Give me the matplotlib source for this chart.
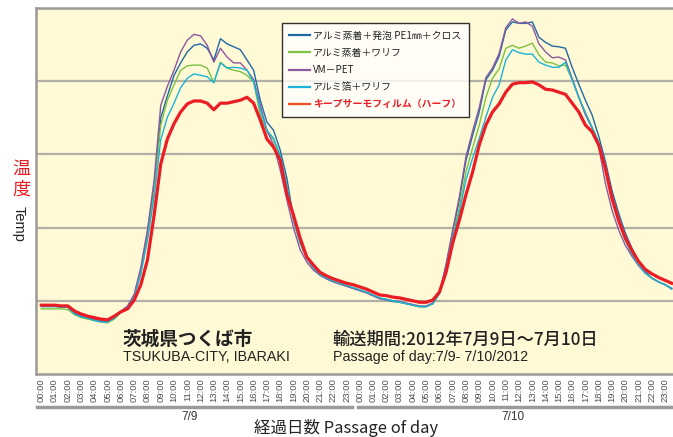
import numpy as np
import matplotlib
matplotlib.use("Agg")
import matplotlib.pyplot as plt
import matplotlib.transforms as mtransforms

plt.rcParams['font.family'] = ['Noto Sans CJK JP', 'DejaVu Sans']

# half-hourly readings, 7/9 00:00 .. 7/10 23:30
hours_labels = [f"{h % 24:02d}:00" for h in range(48)]
days = ["7/9", "7/10"]
series_names = ["アルミ蒸着＋発泡 PE1㎜＋クロス", "アルミ蒸着＋ワリフ", "VM－PET",
                "アルミ箔＋ワリフ", "キープサーモフィルム（ハーフ）"]

blue = [19.3,19.3,19.3,19.2,19.2,18.3,17.9,17.7,17.4,17.2,17.2,17.7,
        18.5,19.2,20.7,24.2,29.3,35.5,45.0,48.0,50.8,52.5,54.0,54.9,
        55.1,54.5,52.9,55.8,55.1,54.7,54.3,52.9,51.5,47.4,44.4,43.3,
        40.6,36.8,31.3,28.0,25.8,24.5,23.5,23.0,22.6,22.3,22.0,21.7,
        21.4,21.1,20.7,20.3,20.1,19.9,19.8,19.6,19.4,19.2,19.2,19.6,
        21.0,24.8,29.4,33.8,39.2,42.6,45.8,50.2,51.5,53.4,57.0,58.1,
        57.9,57.9,58.1,56.0,55.3,54.8,54.7,54.5,51.9,49.6,47.4,45.4,
        42.5,39.1,35.1,32.0,29.3,27.2,25.3,24.1,23.1,22.6,22.2,21.6]

green = [18.9,18.9,18.9,18.9,18.8,18.1,17.7,17.5,17.3,17.1,17.0,17.5,
         18.4,19.1,20.7,24.0,28.7,35.1,44.0,47.4,49.5,51.5,52.1,52.2,
         52.2,51.8,49.8,52.6,51.8,51.5,51.3,50.8,49.9,45.4,43.1,42.0,
         39.5,35.7,31.0,27.9,25.8,24.5,23.6,23.1,22.7,22.4,22.1,21.8,
         21.5,21.2,20.8,20.4,20.2,20.0,19.8,19.6,19.4,19.2,19.2,19.6,
         21.0,24.6,28.9,32.7,37.6,40.9,44.0,47.8,50.4,51.7,54.5,54.9,
         54.5,54.8,55.2,53.6,52.6,52.5,52.1,52.2,50.2,47.8,45.7,43.7,
         41.6,38.1,34.0,30.8,28.3,26.4,24.9,23.8,23.1,22.6,22.2,21.7]

purple = [19.3,19.3,19.3,19.2,19.2,18.4,18.0,17.7,17.5,17.3,17.2,17.8,
          18.6,19.3,20.9,24.6,29.7,36.5,46.7,49.3,51.5,54.0,55.6,56.4,
          56.2,54.9,52.6,54.5,53.3,52.5,52.5,51.5,50.2,46.7,43.3,41.3,
          37.9,33.8,30.0,27.0,25.3,24.2,23.5,23.0,22.6,22.3,22.0,21.7,
          21.4,21.1,20.7,20.3,20.2,20.0,19.9,19.7,19.5,19.3,19.3,19.7,
          21.1,25.0,29.7,34.2,39.7,43.2,46.4,50.5,51.8,53.8,57.3,58.5,
          57.9,58.1,57.5,55.1,54.0,53.2,53.3,52.9,50.4,47.8,45.4,43.6,
          41.1,36.1,32.4,29.7,27.6,26.1,24.8,23.8,23.1,22.6,22.2,21.7]

cyan = [19.2,19.2,19.2,19.1,19.1,18.2,17.8,17.6,17.3,17.1,17.1,17.6,
        18.5,19.1,20.5,23.6,28.3,34.2,42.0,45.1,47.0,49.1,50.4,51.0,
        50.8,50.6,49.8,52.5,51.8,51.9,51.8,51.5,49.9,46.1,43.3,42.2,
        39.9,35.8,31.0,27.9,25.8,24.5,23.6,23.1,22.7,22.4,22.1,21.8,
        21.5,21.2,20.8,20.4,20.2,20.0,19.8,19.6,19.4,19.2,19.2,19.6,
        21.0,24.4,28.6,32.1,36.5,39.5,42.2,45.1,47.8,49.5,52.9,54.3,
        53.9,53.7,53.7,52.6,52.2,51.9,51.9,52.6,50.2,47.8,45.7,43.7,
        41.7,38.5,34.3,30.9,28.3,26.4,24.9,23.8,23.1,22.6,22.2,21.7]

red = [19.4,19.4,19.4,19.3,19.3,18.6,18.2,17.9,17.7,17.5,17.4,17.9,
       18.5,18.9,20.1,22.2,25.6,31.7,38.7,42.1,44.2,45.8,46.9,47.3,
       47.3,47.0,46.1,47.0,47.0,47.2,47.4,47.8,47.0,44.7,42.1,41.0,
       39.2,34.6,31.7,28.6,26.0,24.9,23.9,23.4,23.0,22.7,22.4,22.2,
       21.9,21.6,21.2,20.8,20.7,20.5,20.4,20.2,20.0,19.8,19.8,20.1,
       21.2,23.9,27.9,31.0,34.5,37.6,41.3,44.0,45.8,46.9,48.5,49.6,
       49.8,49.8,49.9,49.5,48.9,48.8,48.5,48.2,47.0,45.8,44.0,43.1,
       41.3,38.1,34.0,31.0,28.6,26.9,25.4,24.3,23.7,23.2,22.8,22.4]

colors = ["#1f6aa5", "#7cc243", "#8b5a9e", "#19b4d8", "#ec1c24"]

fig = plt.figure(figsize=(6.73, 4.37), dpi=100)
ax = fig.add_axes([36/673, 1-374/437, 1-36/673, (374-8)/437])
ax.set_facecolor("#fff9d6")

t = np.arange(len(red)) * 0.5
data = [blue, green, purple, cyan, red]
lines = []
for i in range(5):
    lw = 2.3 if i == 4 else 1.0
    ln, = ax.plot(t, data[i], color=colors[i], lw=lw, zorder=3 + (2 if i == 4 else 0),
                  solid_joinstyle='round')
    lines.append(ln)

ax.set_xlim(-0.4, 47.6)
ax.set_ylim(10, 60)
ax.set_yticks([20, 30, 40, 50])
ax.set_yticklabels([])
ax.tick_params(axis='y', length=0)
ax.yaxis.grid(True, color="#b3b0a6", lw=1.6)
ax.set_axisbelow(True)

ax.set_xticks(range(48))
ax.set_xticklabels(hours_labels, rotation=90, fontsize=6.8, color="#505050",
                   family=['Liberation Sans', 'DejaVu Sans'])
ax.tick_params(axis='x', length=0, pad=3)

for s in ['top', 'left', 'bottom']:
    ax.spines[s].set_color("#9a9a9a")
    ax.spines[s].set_linewidth(1.8)
ax.spines['right'].set_visible(False)

# day bars
trans = mtransforms.blended_transform_factory(ax.transData, ax.transAxes)
ax.plot([-0.32, 23.4], [-0.090, -0.090], transform=trans, clip_on=False, color="#9a9a9a", lw=2.5)
ax.plot([23.86, 47.6], [-0.090, -0.090], transform=trans, clip_on=False, color="#9a9a9a", lw=2.5)
ax.text(11.2, -0.117, days[0], transform=trans, ha='center', va='center', fontsize=8.5,
        color="#333333", family=['Liberation Sans', 'DejaVu Sans'])
ax.text(35.5, -0.117, days[1], transform=trans, ha='center', va='center', fontsize=8.5,
        color="#333333", family=['Liberation Sans', 'DejaVu Sans'])

# legend
leg = ax.legend(lines, series_names, loc='upper left', bbox_to_anchor=(0.386, 0.958),
                fontsize=7.1, handlelength=2.1, handletextpad=0.3, labelspacing=0.72,
                borderpad=0.75, frameon=True, fancybox=False, borderaxespad=0)
leg.get_frame().set_edgecolor("black")
leg.get_frame().set_linewidth(1.0)
leg.get_frame().set_facecolor("white")
leg.set_zorder(10)
for txt in leg.get_texts():
    txt.set_color("#222222")
leg.get_texts()[4].set_color("#ec1c24")
leg.get_texts()[4].set_fontweight('bold')
for h in leg.get_lines():
    h.set_linewidth(1.6)
leg.get_lines()[4].set_color("#f04e23")

# annotations
ax.text(0.1366, 0.096, "茨城県つくば市", transform=ax.transAxes, fontsize=13.4,
        fontweight='bold', color="#222222", va='center', ha='left')
ax.text(0.1366, 0.046, "TSUKUBA-CITY, IBARAKI", transform=ax.transAxes, fontsize=10.3,
        color="#222222", va='center', ha='left', family=['Liberation Sans', 'DejaVu Sans'])
ax.text(0.466, 0.093, "輸送期間:2012年7月9日〜7月10日", transform=ax.transAxes, fontsize=12.4,
        fontweight='medium', color="#222222", va='center', ha='left')
ax.text(0.466, 0.046, "Passage of day:7/9- 7/10/2012", transform=ax.transAxes, fontsize=10.3,
        color="#222222", va='center', ha='left', family=['Liberation Sans', 'DejaVu Sans'])

# axis labels
fig.text(0.514, 1-428/437, "経過日数 Passage of day", ha='center', va='center',
         fontsize=11.9, color="#222222")
fig.text(21/673, 1-169/437, "温", ha='center', va='center', fontsize=13, color="#ec1c24")
fig.text(21/673, 1-190/437, "度", ha='center', va='center', fontsize=13, color="#ec1c24")
fig.text(19/673, 1-224/437, "Temp", ha='center', va='center', fontsize=10.5, rotation=270,
         color="#222222", family=['Liberation Sans', 'DejaVu Sans'])

fig.savefig("out.png", dpi=100, facecolor="white")
